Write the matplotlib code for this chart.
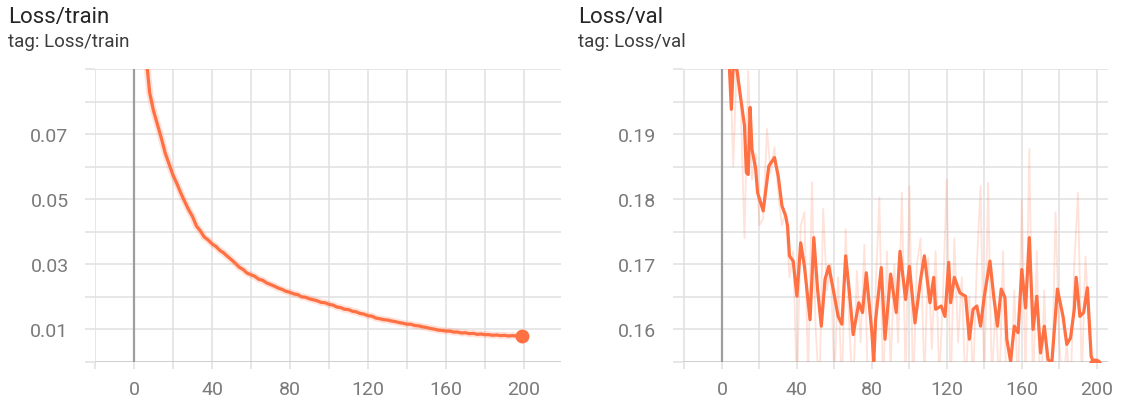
import matplotlib
matplotlib.use("Agg")
import matplotlib.pyplot as plt
from matplotlib.ticker import FixedLocator

plt.rcParams['font.family'] = ['Roboto', 'DejaVu Sans']

# ---- data ----
train_steps = [0, 2, 4, 6, 7, 8, 10, 12, 14, 16, 18, 20, 22, 24, 26, 28, 30, 32, 34, 36,
               38, 40, 42, 44, 46, 48, 50, 52, 54, 56, 58, 60, 62, 64, 66, 68, 70, 72, 74, 76,
               78, 80, 82, 84, 86, 88, 90, 92, 94, 96, 98, 100, 102, 104, 106, 108, 110, 112, 114, 116,
               118, 120, 122, 124, 126, 128, 130, 132, 134, 136, 138, 140, 142, 144, 146, 148, 150, 152, 154, 156,
               158, 160, 162, 164, 166, 168, 170, 172, 174, 176, 178, 180, 182, 184, 186, 188, 190, 192, 194, 196,
               198, 199]
train_loss = [0.200, 0.135, 0.110, 0.094, 0.089, 0.0828, 0.0772, 0.0730, 0.0688, 0.0642, 0.0608, 0.0574, 0.0548, 0.0519, 0.0493, 0.0468, 0.0447, 0.0418, 0.0403, 0.0384,
              0.0375, 0.0363, 0.0355, 0.0343, 0.0335, 0.0324, 0.0314, 0.0303, 0.0291, 0.0284, 0.0273, 0.0268, 0.0263, 0.0254, 0.0251, 0.0243, 0.0238, 0.0233, 0.0227, 0.0223,
              0.0217, 0.0214, 0.0209, 0.0207, 0.0200, 0.0199, 0.0194, 0.0191, 0.0188, 0.0183, 0.0182, 0.0177, 0.0175, 0.0169, 0.0167, 0.0162, 0.0161, 0.0156, 0.0154, 0.0149,
              0.0147, 0.0142, 0.0141, 0.0135, 0.0133, 0.0130, 0.0129, 0.0126, 0.0124, 0.0121, 0.0119, 0.0116, 0.0116, 0.0112, 0.0111, 0.0108, 0.0106, 0.0103, 0.0101, 0.0098,
              0.0097, 0.0095, 0.0095, 0.0092, 0.0092, 0.0089, 0.0090, 0.0087, 0.0088, 0.0085, 0.0086, 0.0084, 0.0084, 0.0082, 0.0083, 0.0081, 0.0082, 0.0080, 0.0081, 0.0080,
              0.0080, 0.0079]

val_steps = [0, 2, 4, 5, 6, 8, 10, 12, 13, 14, 15, 16, 18, 19, 22, 25, 28, 30, 32, 34,
             35, 36, 38, 40, 42, 44, 47, 49, 51, 53, 55, 57, 59, 62, 64, 66, 68, 70, 73, 75,
             77, 80, 81, 82, 85, 87, 90, 93, 95, 98, 100, 103, 106, 108, 111, 113, 114, 117, 119, 121,
             122, 124, 127, 130, 132, 134, 136, 138, 140, 143, 145, 147, 149, 151, 152, 154, 156, 158, 160, 162,
             164, 166, 168, 170, 172, 174, 176, 179, 182, 184, 186, 188, 189, 191, 193, 195, 197, 199]
val_smooth = [0.2150, 0.2060, 0.2000, 0.1938, 0.2005, 0.1998, 0.1955, 0.1913, 0.1841, 0.1838, 0.1941, 0.1877, 0.1846, 0.1810, 0.1782, 0.1851, 0.1864, 0.1836, 0.1790, 0.1774,
              0.1759, 0.1713, 0.1705, 0.1651, 0.1733, 0.1697, 0.1615, 0.1741, 0.1662, 0.1605, 0.1677, 0.1697, 0.1667, 0.1620, 0.1608, 0.1713, 0.1657, 0.1592, 0.1641, 0.1626,
              0.1687, 0.1595, 0.1551, 0.1615, 0.1695, 0.1585, 0.1685, 0.1626, 0.1720, 0.1646, 0.1697, 0.1610, 0.1677, 0.1713, 0.1641, 0.1680, 0.1631, 0.1636, 0.1620, 0.1703,
              0.1641, 0.1680, 0.1656, 0.1651, 0.1585, 0.1631, 0.1636, 0.1605, 0.1651, 0.1705, 0.1651, 0.1605, 0.1662, 0.1649, 0.1585, 0.1551, 0.1605, 0.1595, 0.1692, 0.1633,
              0.1741, 0.1600, 0.1651, 0.1564, 0.1605, 0.1554, 0.1548, 0.1662, 0.1620, 0.1577, 0.1587, 0.1631, 0.1680, 0.1620, 0.1626, 0.1664, 0.1559, 0.1545]

val_raw_steps = list(range(0, 200, 2)) + [199]
val_raw = [0.230, 0.200, 0.205, 0.185, 0.202, 0.195, 0.174, 0.1997, 0.183, 0.187,
           0.176, 0.177, 0.1908, 0.184, 0.188, 0.181, 0.176, 0.178, 0.168, 0.172,
           0.150, 0.176, 0.178, 0.152, 0.1826, 0.160, 0.150, 0.1785, 0.166, 0.170,
           0.152, 0.168, 0.150, 0.1754, 0.160, 0.150, 0.169, 0.158, 0.173, 0.150,
           0.148, 0.166, 0.1803, 0.150, 0.172, 0.154, 0.170, 0.158, 0.181, 0.152,
           0.182, 0.150, 0.170, 0.174, 0.152, 0.171, 0.157, 0.172, 0.152, 0.166,
           0.183, 0.150, 0.174, 0.158, 0.168, 0.150, 0.165, 0.152, 0.170, 0.182,
           0.150, 0.1825, 0.152, 0.164, 0.150, 0.172, 0.148, 0.150, 0.166, 0.150,
           0.180, 0.152, 0.1877, 0.150, 0.172, 0.148, 0.166, 0.147, 0.150, 0.178,
           0.158, 0.150, 0.158, 0.150, 0.170, 0.181, 0.152, 0.1712, 0.160, 0.150,
           0.1545]

LINE = '#ff7043'
GRID = '#e0e0e0'
TICK_TXT = '#7a7a7a'

fig = plt.figure(figsize=(11.3, 4.02), dpi=100)
ax1 = fig.add_axes([95 / 1130, 1 - 363 / 402, 466 / 1130, 293 / 402])
ax2 = fig.add_axes([683 / 1130, 1 - 363 / 402, 425 / 1130, 293 / 402])


def style(ax, ylim, ymaj, ymin, xlim):
    ax.set_xlim(*xlim)
    ax.set_ylim(*ylim)
    for s in ax.spines.values():
        s.set_visible(False)
    ax.xaxis.set_major_locator(FixedLocator([0, 40, 80, 120, 160, 200]))
    ax.xaxis.set_minor_locator(FixedLocator([-20, 20, 60, 100, 140, 180, 220]))
    ax.yaxis.set_major_locator(FixedLocator(ymaj))
    ax.yaxis.set_minor_locator(FixedLocator(ymin))
    ax.grid(True, which='both', color=GRID, lw=1.1)
    ax.set_axisbelow(True)
    ax.tick_params(which='both', color=GRID, width=1.1, length=5,
                   labelcolor=TICK_TXT, labelsize=14)
    ax.tick_params(axis='x', which='both', pad=8)
    ax.tick_params(axis='y', which='both', pad=12, length=7)
    ax.axhline(ylim[0], color='#cfcfcf', lw=1.4, zorder=1)
    ax.axvline(0, color='#9e9e9e', lw=1.6, zorder=1)


style(ax1, (0, 0.09), [0.01, 0.03, 0.05, 0.07], [0.0, 0.02, 0.04, 0.06, 0.08, 0.09], (-20, 219))
ax1.set_yticklabels(['0.01', '0.03', '0.05', '0.07'])
style(ax2, (0.155, 0.20), [0.16, 0.17, 0.18, 0.19],
      [0.155, 0.165, 0.175, 0.185, 0.195, 0.20], (-20.8, 206))
ax2.set_yticklabels(['0.16', '0.17', '0.18', '0.19'])

# train: faint raw halo + smoothed line
ax1.plot(train_steps, train_loss, color=LINE, alpha=0.2, lw=5, solid_capstyle='round', zorder=2)
ax1.plot(train_steps, train_loss, color=LINE, lw=2.3, zorder=3)
ax1.plot(train_steps[-1], train_loss[-1], 'o', color=LINE, ms=9, zorder=4)

# val: raw spikes + smoothed line
ax2.plot(val_raw_steps, val_raw, color=LINE, alpha=0.2, lw=1.3, zorder=2)
ax2.plot(val_steps, val_smooth, color=LINE, lw=2.3, zorder=3)
ax2.plot(val_steps[-1], val_smooth[-1], 'o', color=LINE, ms=9, zorder=4)

for x, t in [(8, 'Loss/train'), (578, 'Loss/val')]:
    fig.text(x / 1130, 1 - 17 / 402, t, fontsize=16, color='#262626', va='center', ha='left')
    fig.text(x / 1130, 1 - 42 / 402, 'tag: ' + t, fontsize=13.5, color='#3c3c3c', va='center', ha='left')

fig.savefig('out.png', dpi=100)
